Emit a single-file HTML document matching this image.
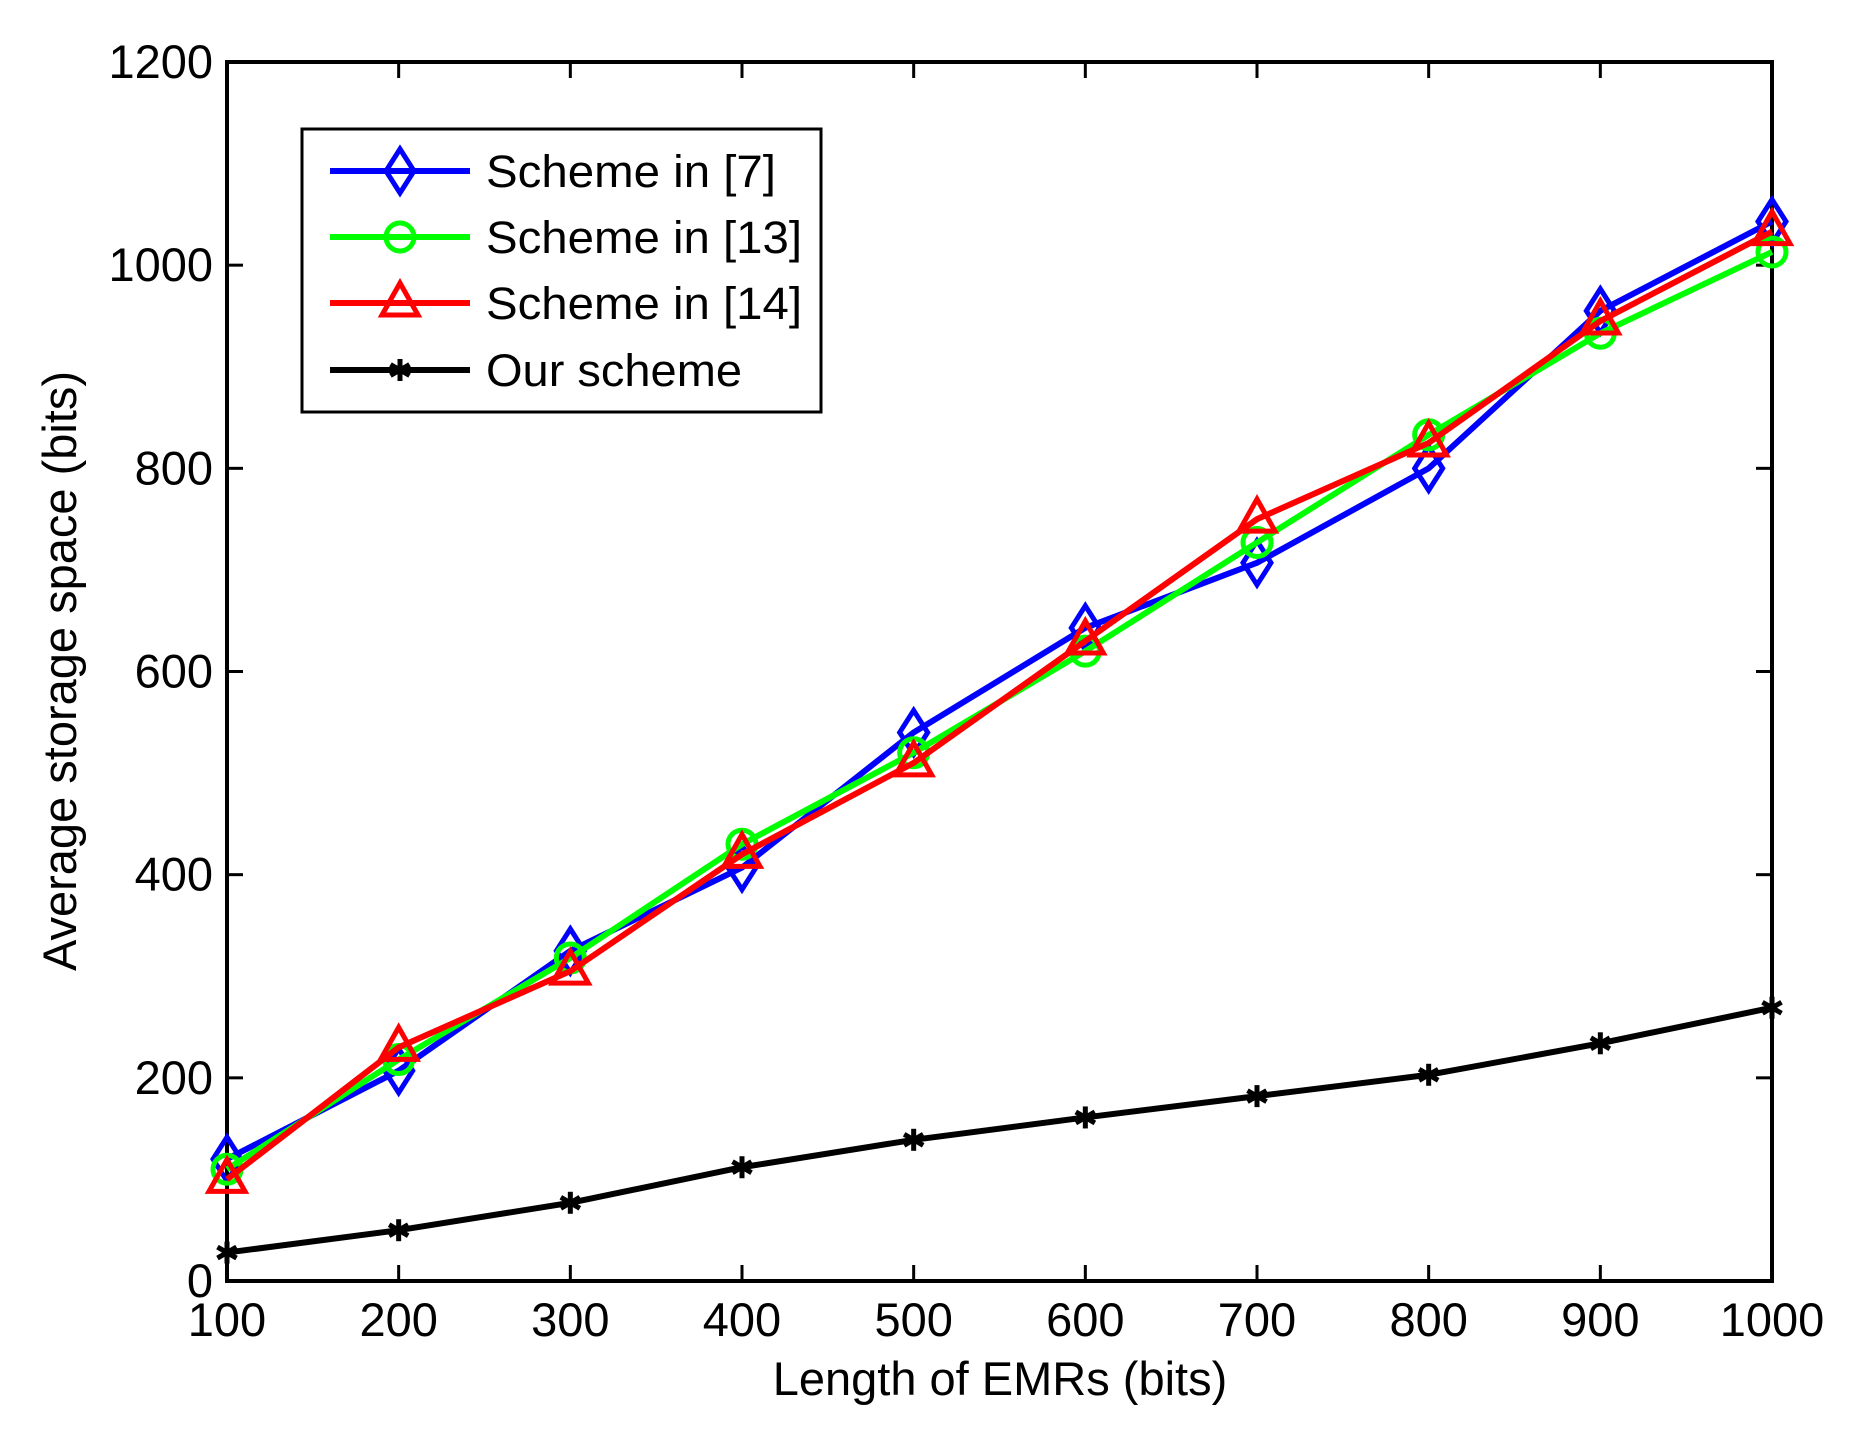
<!DOCTYPE html>
<html><head><meta charset="utf-8"><style>html,body{margin:0;padding:0;background:#fff}svg{display:block}</style></head>
<body>
<svg id="c" width="1856" height="1441" xmlns="http://www.w3.org/2000/svg" font-family="Liberation Sans, sans-serif"></svg>
<script>
const X0=227,X1=1772,Y0=1281,Y1=62;
const sx=v=>X0+(v-100)*(X1-X0)/900, sy=v=>Y0-v*(Y0-Y1)/1200;
let s='';
s+=`<rect x="${X0}" y="${Y1}" width="${X1-X0}" height="${Y0-Y1}" fill="#fff" stroke="#000" stroke-width="4"/>`;
for(let v=0;v<=1200;v+=200){const y=sy(v);
 s+=`<line x1="${X0}" y1="${y}" x2="${X0+16}" y2="${y}" stroke="#000" stroke-width="3"/><line x1="${X1}" y1="${y}" x2="${X1-16}" y2="${y}" stroke="#000" stroke-width="3"/>`;
 s+=`<text x="213" y="${y+16}" font-size="47" text-anchor="end">${v}</text>`;}
for(let v=100;v<=1000;v+=100){const x=sx(v);
 s+=`<line x1="${x}" y1="${Y0}" x2="${x}" y2="${Y0-16}" stroke="#000" stroke-width="3"/><line x1="${x}" y1="${Y1}" x2="${x}" y2="${Y1+16}" stroke="#000" stroke-width="3"/>`;
 s+=`<text x="${x}" y="1336" font-size="47" text-anchor="middle">${v}</text>`;}
s+=`<text x="1000" y="1395" font-size="47" text-anchor="middle">Length of EMRs (bits)</text>`;
s+=`<text transform="translate(76,671) rotate(-90)" font-size="47" text-anchor="middle">Average storage space (bits)</text>`;
const xs=[100,200,300,400,500,600,700,800,900,1000];
const D=[
 ['#0000ff','d',[120,207,325,407,540,643,707,800,955,1043]],
 ['#00ff00','o',[110,218,318,430,520,620,727,833,933,1013]],
 ['#ff0000','t',[100,230,305,420,510,630,750,825,945,1033]],
 ['#000000','s',[28,50,77,112,139,161,182,203,234,269]]];
function mk(t,x,y,c){
 if(t=='d')return `<polygon points="${x},${y-22} ${x+14},${y} ${x},${y+22} ${x-14},${y}" fill="none" stroke="${c}" stroke-width="5"/>`;
 if(t=='o')return `<circle cx="${x}" cy="${y}" r="14" fill="none" stroke="${c}" stroke-width="5"/>`;
 if(t=='t')return `<polygon points="${x},${y-20} ${x+18},${y+12} ${x-18},${y+12}" fill="none" stroke="${c}" stroke-width="5"/>`;
 let r='';for(const a of [0,60,120]){const ra=a*Math.PI/180;r+=`<line x1="${x-11*Math.sin(ra)}" y1="${y-11*Math.cos(ra)}" x2="${x+11*Math.sin(ra)}" y2="${y+11*Math.cos(ra)}" stroke="${c}" stroke-width="5"/>`;}return r;}
for(const [c,t,v] of D){
 s+=`<polyline fill="none" stroke="${c}" stroke-width="6" points="${v.map((d,i)=>sx(xs[i])+','+sy(d)).join(' ')}"/>`;
 v.forEach((d,i)=>s+=mk(t,sx(xs[i]),sy(d),c));}
s+=`<rect x="302" y="129" width="519" height="283" fill="#fff" stroke="#000" stroke-width="3"/>`;
const L=[['Scheme in [7]',171,290],['Scheme in [13]',237,316],['Scheme in [14]',303,316],['Our scheme',370,256]];
L.forEach(([txt,y,w],i)=>{const [c,t]=D[i];
 s+=`<line x1="330" y1="${y}" x2="470" y2="${y}" stroke="${c}" stroke-width="6"/>`+mk(t,400,y,c);
 s+=`<text x="486" y="${y+16}" font-size="45" textLength="${w}" lengthAdjust="spacingAndGlyphs">${txt}</text>`;});
document.getElementById('c').innerHTML=s;
</script>
</body></html>
